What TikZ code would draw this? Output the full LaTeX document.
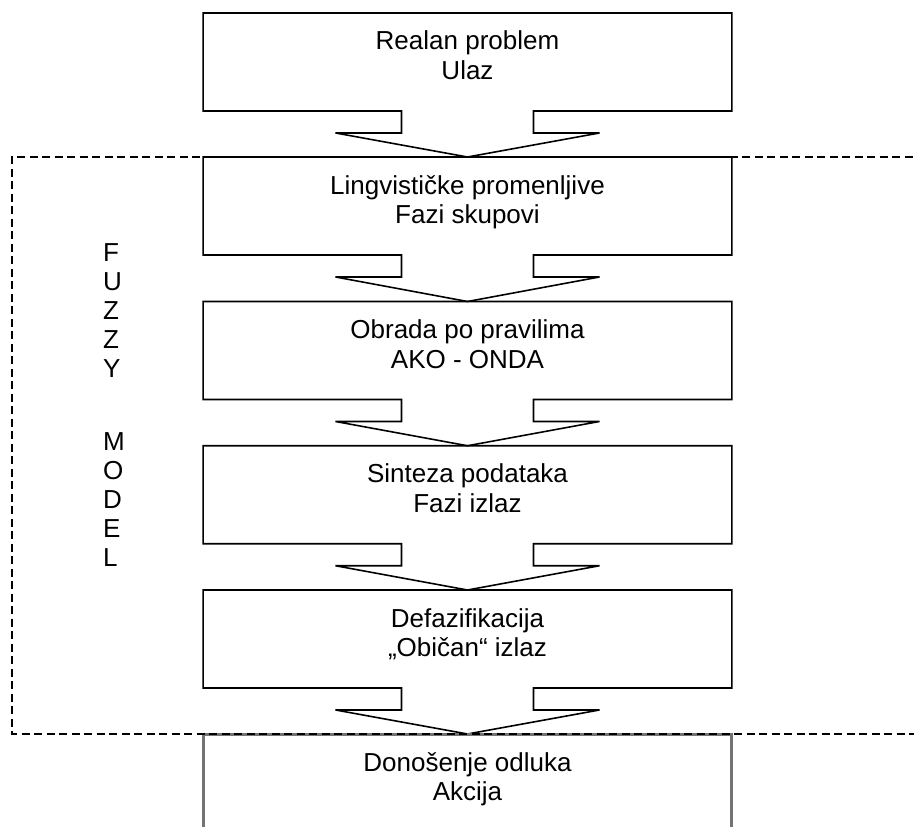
\documentclass[tikz,border=0pt]{standalone}
\usepackage{fontspec}
\setmainfont{Liberation Sans}
\usepackage{tikz}
\usetikzlibrary{calc}

\definecolor{lastgray}{RGB}{115,115,115}

\tikzset{
  boxnode/.style={draw=none, inner sep=0, outer sep=0,
    minimum width=10.58cm, minimum height=1.96cm},
  boxtext/.style={inner sep=0, outer sep=0, align=center, anchor=north,
    font=\fontsize{14.8pt}{17.07pt}\selectfont},
  boxline/.style={black, line width=0.9pt},
  lastline/.style={lastgray, line width=1.7pt},
  frameline/.style={black, line width=0.85pt, dash pattern=on 0.16cm off 0.09cm},
  letter/.style={inner sep=0, outer sep=0, anchor=west,
    font=\fontsize{14.8pt}{17.07pt}\selectfont}
}

\begin{document}
\begin{tikzpicture}[x=0.02cm, y=-0.02cm]

  \useasboundingbox (0, 0) rectangle (914, 827);

  \pgfmathsetmacro{\cx}{467.5}
  \pgfmathsetmacro{\tab}{66}
  \pgfmathsetmacro{\wing}{132}
  \pgfmathsetmacro{\stem}{22}

  % boxes and their texts
  \foreach \top/\first/\second [count=\n] in {13/Realan problem/Ulaz,
      157/Lingvističke promenljive/Fazi skupovi,
      301.5/Obrada po pravilima/AKO - ONDA,
      445.75/Sinteza podataka/Fazi izlaz,
      590/Defazifikacija/„Običan“ izlaz,
      734/Donošenje odluka/Akcija} {
    \node[boxnode] (b\n) at (\cx, {\top + 49}) {};
    \node[boxtext] (t\n) at ($(b\n.north) + (0, 16)$) {\strut\first\\\second};
  }

  % box outlines with the arrow to the next box
  \foreach \n in {1, ..., 5} {
    \pgfmathtruncatemacro{\m}{\n + 1}
    \draw[boxline] (b\n.south west) -- (b\n.north west) -- (b\n.north east)
      -- (b\n.south east) -- ($(b\n.south) + (\tab, 0)$) -- ++(0, \stem)
      -- ($(b\n.south) + (\wing, \stem)$) -- (b\m.north)
      -- ($(b\n.south) + (-\wing, \stem)$) -- ($(b\n.south) + (-\tab, \stem)$)
      -- ($(b\n.south) + (-\tab, 0)$) -- cycle;
  }

  \draw[lastline] ($(b6.north west) + (0, 110)$) -- (b6.north west)
    -- (b6.north east) -- ++(0, 110);

  % fuzzy model frame
  \draw[frameline] (925, 157) -- (12, 157) -- (12, 734) -- (925, 734);

  \foreach \ch [count=\i] in {F, U, Z, Z, Y} {
    \node[letter] (f\i) at (103, {253 + 29 * (\i - 1)}) {\ch};
  }
  \foreach \ch [count=\i] in {M, O, D, E, L} {
    \node[letter] (m\i) at (103, {442 + 29 * (\i - 1)}) {\ch};
  }

\end{tikzpicture}
\end{document}
